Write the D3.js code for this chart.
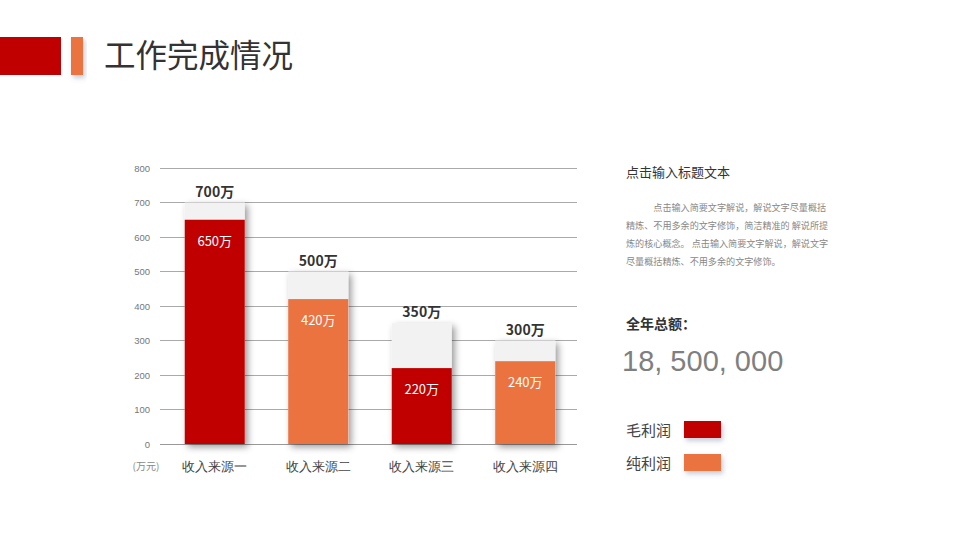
<!DOCTYPE html>
<html><head><meta charset="utf-8">
<script src="https://cdn.jsdelivr.net/npm/d3@7/dist/d3.min.js"></script>
<style>body{margin:0;background:#fff;}svg{display:block;font-family:"Microsoft YaHei","Noto Sans CJK SC",sans-serif;}</style>
</head><body><svg id="c" width="960" height="540"></svg>
<script>
const categories = ["收入来源一","收入来源二","收入来源三","收入来源四"];
const totals = [700,500,350,300];
const values = [650,420,220,240];
const barColors = ["#C00000","#EB7340","#C00000","#EB7340"];
const yTicks = [0,100,200,300,400,500,600,700,800];
const legendItems = [{name:"毛利润",color:"#C00000"},{name:"纯利润",color:"#EB7340"}];
const paragraph = ["　　　点击输入简要文字解说，解说文字尽量概括","精炼、不用多余的文字修饰，简洁精准的 解说所提","炼的核心概念。  点击输入简要文字解说，解说文字","尽量概括精炼、不用多余的文字修饰。"];

const svg = d3.select("#c");
const defs = svg.append("defs");
const f = defs.append("filter").attr("id","sh").attr("x","-30%").attr("y","-30%").attr("width","160%").attr("height","160%");
f.append("feDropShadow").attr("dx",3).attr("dy",3).attr("stdDeviation",3.5).attr("flood-color","#000").attr("flood-opacity",0.4);
const f2 = defs.append("filter").attr("id","sh2").attr("x","-30%").attr("y","-50%").attr("width","160%").attr("height","200%");
f2.append("feDropShadow").attr("dx",2).attr("dy",3).attr("stdDeviation",2.5).attr("flood-color","#5a7090").attr("flood-opacity",0.35);

// header
svg.append("rect").attr("x",0).attr("y",37).attr("width",61).attr("height",38).attr("fill","#C00000");
svg.append("rect").attr("x",71).attr("y",37).attr("width",12).attr("height",38).attr("fill","#EB7340").attr("filter","url(#sh2)");
svg.append("text").attr("x",104).attr("y",67).attr("font-size",31.5).attr("fill","#333").text("工作完成情况");

// chart
const x = d3.scaleBand().domain(categories).range([163,577]).paddingInner(0.42).paddingOuter(0.21);
const y = d3.scaleLinear().domain([0,800]).range([444,168]);

const grid = svg.append("g");
grid.selectAll("line").data(yTicks).join("line")
  .attr("x1",160).attr("x2",577).attr("y1",d=>y(d)).attr("y2",d=>y(d))
  .attr("stroke",d=>d===0?"#999":"#aaa").attr("stroke-width",1).attr("shape-rendering","crispEdges");
const yAxis = d3.axisLeft(y).tickValues(yTicks).tickSize(0).tickPadding(0);
const ya = svg.append("g").attr("transform","translate(150,0)").call(yAxis);
ya.select(".domain").remove();
ya.selectAll("text").attr("fill","#777").attr("font-size",9.5).attr("font-family","Arial,'Liberation Sans',sans-serif");

svg.append("g").selectAll("rect").data(categories).join("rect")
  .attr("x",d=>x(d)).attr("width",x.bandwidth())
  .attr("y",(d,i)=>y(totals[i])).attr("height",(d,i)=>y(0)-y(totals[i]))
  .attr("fill","#F2F2F2").attr("filter","url(#sh)");
svg.append("g").selectAll("rect").data(categories).join("rect")
  .attr("x",d=>x(d)).attr("width",x.bandwidth())
  .attr("y",(d,i)=>y(values[i])).attr("height",(d,i)=>y(0)-y(values[i]))
  .attr("fill",(d,i)=>barColors[i]);

svg.append("g").selectAll("text").data(categories).join("text")
  .attr("x",d=>x(d)+x.bandwidth()/2).attr("y",(d,i)=>y(totals[i])-6)
  .attr("text-anchor","middle").attr("font-size",14).attr("font-weight","bold").attr("fill","#333")
  .text((d,i)=>totals[i]+"万");
svg.append("g").selectAll("text").data(categories).join("text")
  .attr("x",d=>x(d)+x.bandwidth()/2).attr("y",(d,i)=>y(values[i])+26)
  .attr("text-anchor","middle").attr("font-size",13).attr("fill","#fff")
  .text((d,i)=>values[i]+"万");

const xAxis = d3.axisBottom(x).tickSize(0).tickPadding(0);
const xa = svg.append("g").attr("transform","translate(0,466)").call(xAxis);
xa.select(".domain").remove();
xa.selectAll("text").attr("fill","#444").attr("font-size",13).attr("dy","0.35em");
svg.append("text").attr("x",146).attr("y",470).attr("text-anchor","middle").attr("font-size",10).attr("fill","#888").text("(万元)");

// right panel
svg.append("text").attr("x",626).attr("y",177).attr("font-size",13).attr("fill","#333").text("点击输入标题文本");
svg.append("g").selectAll("text").data(paragraph).join("text")
  .attr("x",626).attr("y",(d,i)=>211+i*18).attr("font-size",9.1).attr("fill","#888").text(d=>d);
svg.append("text").attr("x",626).attr("y",329).attr("font-size",14).attr("font-weight","bold").attr("fill","#333").text("全年总额：");
svg.append("text").attr("x",622).attr("y",371).attr("font-size",29).attr("fill","#7f7f7f").attr("font-family","Arial,'Liberation Sans',sans-serif").text("18, 500, 000");

const lg = svg.append("g").selectAll("g").data(legendItems).join("g")
  .attr("transform",(d,i)=>`translate(0,${i*33})`);
lg.append("text").attr("x",626).attr("y",436).attr("font-size",15).attr("fill","#444").text(d=>d.name);
lg.append("rect").attr("x",684).attr("y",421).attr("width",37).attr("height",17).attr("fill",d=>d.color).attr("filter","url(#sh2)");
</script></body></html>
